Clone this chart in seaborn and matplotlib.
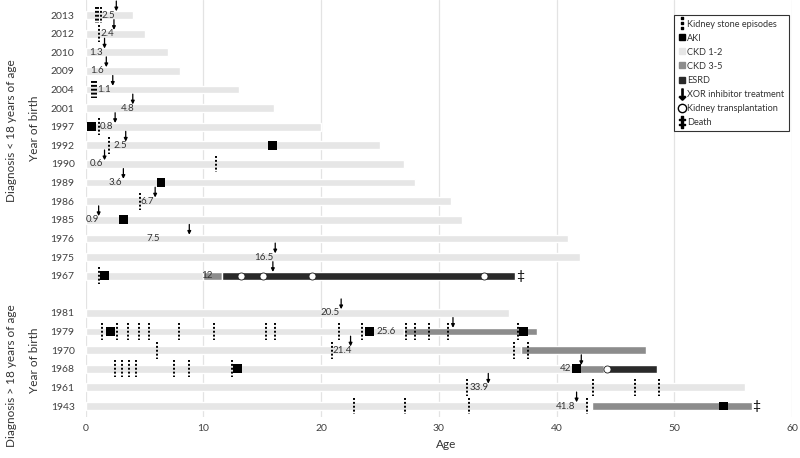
import matplotlib
matplotlib.use('Agg')
import matplotlib.pyplot as plt
import seaborn as sns
import pandas as pd
from matplotlib.lines import Line2D

sns.set_style('white')
plt.rcParams['font.family'] = ['Lato', 'DejaVu Sans']

# ---------------- data ----------------
young_years = ['2013', '2012', '2010', '2009', '2004', '2001', '1997', '1992',
               '1990', '1989', '1986', '1985', '1976', '1975', '1967']
adult_years = ['1981', '1979', '1970', '1968', '1961', '1943']
years = young_years + adult_years

# CKD 1-2 (light) bar end age for each patient
ckd12_end = [4, 5, 7, 8, 13, 16, 20, 25, 27, 28, 31, 32, 41, 42, 10,
             36, 27, 37, 41.6, 56, 42.7]

# CKD 3-5 segments
ckd35_years = ['1967', '1979', '1970', '1968', '1943']
ckd35_start = [10.0, 27.0, 37.0, 41.7, 43.0]
ckd35_end = [11.6, 38.3, 47.6, 44.0, 56.6]

# ESRD segments
esrd_years = ['1967', '1968']
esrd_start = [11.6, 44.0]
esrd_end = [36.5, 48.5]

# AKI episodes
aki_years = ['1997', '1992', '1989', '1985', '1967', '1979', '1979', '1979',
             '1968', '1968', '1943']
aki_ages = [0.5, 15.9, 6.4, 3.2, 1.6, 2.1, 24.1, 37.2, 12.9, 41.7, 54.2]

# Kidney stone episodes
stone_years = (['2013'] * 3 + ['2012'] + ['2004'] * 3 + ['1997', '1992', '1990', '1986', '1967']
               + ['1979'] * 16 + ['1970'] * 4 + ['1968'] * 7 + ['1961'] * 4 + ['1943'] * 4)
stone_ages = ([0.85, 1.08, 1.3] + [1.1] + [0.5, 0.7, 0.9] + [1.1, 2.0, 11.1, 4.6, 1.1]
              + [1.4, 2.7, 3.6, 4.5, 5.4, 7.9, 10.9, 15.35, 16.1, 21.5, 23.45, 27.2, 28.0, 29.2, 30.8, 36.7]
              + [6.06, 20.9, 36.4, 37.55]
              + [2.5, 3.1, 3.7, 4.3, 7.5, 8.8, 12.4]
              + [32.4, 43.1, 46.7, 48.7]
              + [22.8, 27.1, 32.6, 42.6])

# XOR inhibitor treatment start
xor_years = years
xor_ages = [2.6, 2.4, 1.6, 1.75, 2.3, 4.0, 2.5, 3.4, 1.6, 3.2, 5.9, 1.1, 8.8, 16.1, 15.9,
            21.7, 31.2, 22.5, 42.1, 34.2, 41.7]

# Annotation labels (age at diagnosis) and their positions
label_years = years
label_texts = ['2.5', '2.4', '1.3', '1.6', '1.1', '4.8', '0.8', '2.5', '0.6', '3.6', '6.7', '0.9',
               '7.5', '16.5', '12', '20.5', '25.6', '21.4', '42', '33.9', '41.8']
label_x = [1.91, 1.83, 0.85, 0.93, 1.6, 3.54, 1.78, 2.9, 0.93, 2.55, 5.27, 0.6,
           5.7, 15.1, 10.3, 20.8, 25.5, 21.8, 40.8, 33.4, 40.8]

# Kidney transplantation
tx_years = ['1967', '1967', '1967', '1967', '1968']
tx_ages = [13.2, 15.1, 19.2, 33.8, 44.3]

# Death
death_years = ['1967', '1943']
death_ages = [36.9, 57.0]

# ---------------- layout ----------------
row_pos = list(range(len(young_years))) + [len(young_years) + 1 + i for i in range(len(adult_years))]
pos = dict(zip(years, row_pos))

C_LIGHT = '#e6e6e6'
C_MID = '#8c8c8c'
C_DARK = '#2a2a2a'
TXT = '#333333'
BAR_H = 0.42

fig = plt.figure(figsize=(8, 4.58), dpi=100)
ax = fig.add_axes([85.7 / 800, 1 - 417 / 458, (792 - 85.7) / 800, 417 / 458])

# gridlines
for gx in range(0, 61, 10):
    ax.axvline(gx, color='#e3e3e3', lw=0.9, zorder=0)

# CKD 1-2 bars
ax.barh([pos[y] for y in years], ckd12_end, left=0, height=BAR_H, color=C_LIGHT, zorder=1)
# CKD 3-5 bars
ax.barh([pos[y] for y in ckd35_years], [e - s for s, e in zip(ckd35_start, ckd35_end)],
        left=ckd35_start, height=BAR_H, color=C_MID, zorder=1)
# ESRD bars
ax.barh([pos[y] for y in esrd_years], [e - s for s, e in zip(esrd_start, esrd_end)],
        left=esrd_start, height=BAR_H, color=C_DARK, zorder=1)

# kidney stones
ax.vlines(stone_ages, [pos[y] - 0.45 for y in stone_years], [pos[y] + 0.45 for y in stone_years],
          colors='black', linestyles=(0, (1, 1)), lw=1.4, zorder=3)

# AKI
aki_df = pd.DataFrame({'age': aki_ages, 'row': [pos[y] for y in aki_years]})
sns.scatterplot(data=aki_df, x='age', y='row', marker='s', s=40, color='black',
                edgecolor='none', ax=ax, zorder=4, legend=False)

# transplantation
tx_df = pd.DataFrame({'age': tx_ages, 'row': [pos[y] for y in tx_years]})
sns.scatterplot(data=tx_df, x='age', y='row', marker='o', s=26, color='white',
                edgecolor='#222222', linewidth=0.6, ax=ax, zorder=5, legend=False)

# XOR arrows
for y, a in zip(xor_years, xor_ages):
    ax.annotate('', xy=(a, pos[y] - 0.2), xytext=(a, pos[y] - 0.75),
                arrowprops=dict(arrowstyle='-|>', color='black', lw=0.9, mutation_scale=5,
                                shrinkA=0, shrinkB=0), zorder=6)

# labels
for y, t, lx in zip(label_years, label_texts, label_x):
    ax.text(lx, pos[y], t, ha='center', va='center', fontsize=7, color=TXT, zorder=6)

# death
for y, a in zip(death_years, death_ages):
    ax.text(a, pos[y], '\u2021', ha='center', va='center', fontsize=10, color='black', zorder=6)

ax.set_xlim(0, 60)
ax.set_ylim(21.59, -0.806)
ax.set_xticks(range(0, 61, 10))
ax.set_yticks(row_pos)
ax.set_yticklabels(years)
ax.tick_params(axis='both', length=0, labelsize=7.5, labelcolor='#404040')
ax.tick_params(axis='y', pad=8)
ax.tick_params(axis='x', pad=5)
for s in ax.spines.values():
    s.set_visible(False)
ax.set_ylabel('')
ax.set_xlabel('')

fig.text(446 / 800, 1 - 444 / 458, 'Age', ha='center', va='center', fontsize=8.5, color=TXT)

# group labels
fig.text(12 / 800, 1 - 131 / 458, 'Diagnosis < 18 years of age', rotation=90,
         ha='center', va='center', fontsize=8.5, color=TXT)
fig.text(35 / 800, 1 - 128 / 458, 'Year of birth', rotation=90,
         ha='center', va='center', fontsize=8.5, color=TXT)
fig.text(12 / 800, 1 - 376 / 458, 'Diagnosis > 18 years of age', rotation=90,
         ha='center', va='center', fontsize=8.5, color=TXT)
fig.text(35 / 800, 1 - 360 / 458, 'Year of birth', rotation=90,
         ha='center', va='center', fontsize=8.5, color=TXT)

# legend
handles = [
    Line2D([], [], ls='none', marker=r'$\vdots$', color='black', markersize=9),
    Line2D([], [], ls='none', marker='s', color='black', markersize=5),
    Line2D([], [], ls='none', marker='s', color=C_LIGHT, markersize=5),
    Line2D([], [], ls='none', marker='s', color=C_MID, markersize=5),
    Line2D([], [], ls='none', marker='s', color=C_DARK, markersize=5),
    Line2D([], [], ls='none', marker=r'$\downarrow$', color='black', markersize=8),
    Line2D([], [], ls='none', marker='o', markerfacecolor='white', markeredgecolor='black', markersize=6),
    Line2D([], [], ls='none', marker=r'$\ddagger$', color='black', markersize=8),
]
labels = ['Kidney stone episodes', 'AKI', 'CKD 1-2', 'CKD 3-5', 'ESRD',
          'XOR inhibitor treatment', 'Kidney transplantation', 'Death']
leg = fig.legend(handles, labels, loc='upper right', bbox_to_anchor=(789 / 800, 1 - 15 / 458),
                 fontsize=6.6, frameon=True, fancybox=False, edgecolor='black',
                 handlelength=0.6, handletextpad=0.3, labelspacing=0.55, borderpad=0.5,
                 borderaxespad=0)
leg.get_frame().set_linewidth(0.8)
for t in leg.get_texts():
    t.set_color(TXT)

fig.savefig('out.png', dpi=100, facecolor='white')
